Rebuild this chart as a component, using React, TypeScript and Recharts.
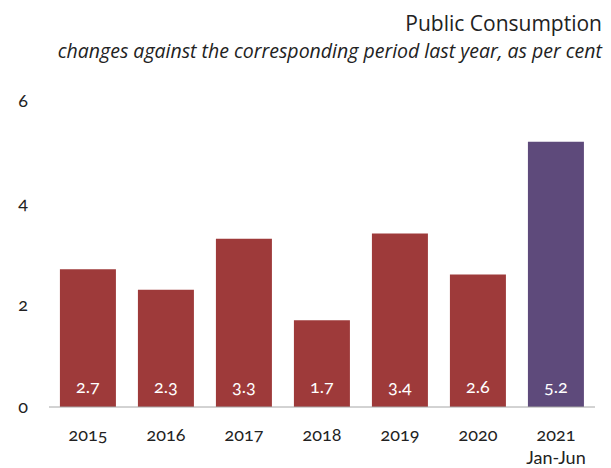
import React from 'react';
import { BarChart, Bar, XAxis, YAxis, Cell, LabelList } from 'recharts';

const categories = ['2015', '2016', '2017', '2018', '2019', '2020', '2021'];
const subLabels = ['', '', '', '', '', '', 'Jan-Jun'];
const values = [2.7, 2.3, 3.3, 1.7, 3.4, 2.6, 5.2];
const yTicks = [0, 2, 4, 6];
const barColors = ['#9e3a3a', '#9e3a3a', '#9e3a3a', '#9e3a3a', '#9e3a3a', '#9e3a3a', '#5e4a7b'];

const data = categories.map((c, i) => ({ name: c, sub: subLabels[i], value: values[i] }));

const FONT = 'Lato, "Open Sans", sans-serif';
const TITLE_FONT = '"Open Sans", Lato, sans-serif';
const numStyle: React.CSSProperties = { fontVariantNumeric: 'oldstyle-nums', fontFeatureSettings: '"onum" 1' };

const XTick = (props: any) => {
  const { x, y, payload, index } = props;
  const sub = subLabels[index] || '';
  return (
    <g>
      <text x={x} y={y + 26} textAnchor="middle" fill="#222" fontSize={18} fontFamily={FONT} style={numStyle}>
        {payload.value}
      </text>
      {sub && (
        <text x={x} y={y + 49} textAnchor="middle" fill="#222" fontSize={18} fontFamily={FONT}>
          {sub}
        </text>
      )}
    </g>
  );
};

const YTick = (props: any) => {
  const { x, y, payload } = props;
  return (
    <text x={x} y={y + 6} textAnchor="end" fill="#222" fontSize={18} fontFamily={FONT} style={numStyle}>
      {payload.value}
    </text>
  );
};

const BarLabel = (props: any) => {
  const { x, y, width, height, value } = props;
  return (
    <text x={x + width / 2} y={y + height - 14} textAnchor="middle" fill="#fff" fontSize={18} fontFamily={FONT} style={numStyle}>
      {value.toFixed(1)}
    </text>
  );
};

export default function App() {
  return (
    <div style={{ position: 'fixed', left: 0, top: 0, width: 611, height: 468, background: '#fff', fontFamily: FONT }}>
      <svg width={611} height={70} style={{ position: 'absolute', left: 0, top: 0 }}>
        <text x={602} y={31} textAnchor="end" fontSize={21} fontFamily={TITLE_FONT} fill="#222">
          Public Consumption
        </text>
        <text x={602} y={58} textAnchor="end" fontSize={19.5} fontStyle="italic" fontFamily={TITLE_FONT} fill="#222">
          changes against the corresponding period last year, as per cent
        </text>
      </svg>
      <div style={{ position: 'absolute', left: 0, top: 0 }}>
        <BarChart width={611} height={468} data={data} margin={{ top: 101, right: 16, bottom: 11, left: 0 }} barCategoryGap="14%">
          <XAxis
            dataKey="name"
            axisLine={{ stroke: '#a6a6a6', strokeWidth: 1 }}
            tickLine={false}
            tick={<XTick />}
            height={50}
            interval={0}
          />
          <YAxis
            domain={[0, 6]}
            ticks={yTicks}
            axisLine={false}
            tickLine={false}
            tick={<YTick />}
            width={49}
            tickMargin={0}
            tickSize={21}
          />
          <Bar dataKey="value" isAnimationActive={false}>
            {data.map((d, i) => (
              <Cell key={d.name} fill={barColors[i]} />
            ))}
            <LabelList dataKey="value" content={<BarLabel />} />
          </Bar>
        </BarChart>
      </div>
    </div>
  );
}
